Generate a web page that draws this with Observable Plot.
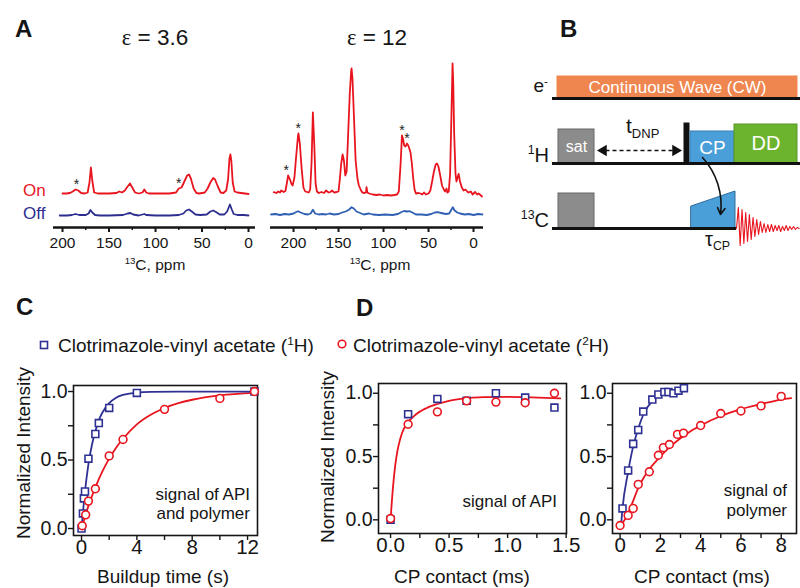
<!DOCTYPE html>
<html>
<head>
<meta charset="utf-8">
<script src="https://cdn.jsdelivr.net/npm/d3@7"></script>
<script src="https://cdn.jsdelivr.net/npm/@observablehq/plot@0.6"></script>
<style>
  html, body { margin: 0; padding: 0; background: #fff; }
  #fig { position: relative; width: 800px; height: 588px; overflow: hidden; font-family: "Liberation Sans", Arial, sans-serif; color: #151515; }
  #fig svg { position: absolute; left: 0; top: 0; }
  .lbl { position: absolute; white-space: nowrap; line-height: 1; }
  .sup { font-size: 0.62em; vertical-align: 0.62em; line-height: 0; }
  .sub { font-size: 0.62em; vertical-align: -0.35em; line-height: 0; }
</style>
</head>
<body>
<div id="fig"></div>
<script>
// ---------------- DATA ----------------
// Panel A: 13C spectra, [ppm, intensity (a.u.)]
const ppmTicks = [200, 150, 100, 50, 0];
const ppmMinor = [175, 125, 75, 25];

const spec36On = [[200,1],[196,1],[192,1.5],[189,3],[186,5],[183,4],[180,1.5],[176,1],[173,2],[171,12],[169.5,27],[168,14],[166,2],[162,1],[150,1],[142,1.5],[139,3],[136,2],[133,4],[130,8],[127.5,11],[125,7],[122,2],[118,1],[114,2],[112,5],[110,2],[107,1],[95,1],[85,1],[78,2],[75,6],[72,7],[69,13],[66,19],[64,20],[62,16],[59,6],[56,1.5],[53,1],[47,2],[44,6],[41,12],[38,16.5],[36,15],[33,8],[30,2],[27,1.5],[24,4],[22,15],[20.5,36],[19.5,40],[18.5,34],[17,12],[15,3],[12,2],[8,1.5],[4,1],[0,0.5]];
const spec36Off = [[203,0],[195,0],[190,0.5],[186,1.5],[182,0.5],[175,0.5],[172,2],[170,5.5],[168,3],[165,0.5],[160,0],[150,0],[135,0.5],[130,2],[127,2.5],[124,1],[118,0],[114,1],[112,1.5],[110,0.5],[100,0],[85,0],[75,0.5],[70,2],[67,5],[64,6],[61,4],[57,1],[52,0.5],[45,1],[41,4],[38,5],[35,3.5],[31,1],[26,1],[23,4],[20,11],[18,6],[16,1.5],[12,0.5],[5,0.5],[0,0]];
const stars36 = [[185,5],[75,6]];

const spec12On = [[222,1.3],[219,0.5],[217,2],[215,1],[213.7,3],[211,1.5],[209,2.5],[207.5,10],[206,18],[204,14],[202,9],[201,8],[199,16],[197,38],[195,58],[194.5,60],[193,50],[191,25],[189,6],[187,2],[185,1.5],[183,1],[181.5,4],[180,30],[178.5,81],[177,50],[175.5,10],[174,2],[172,0.5],[169,1.5],[166,0.5],[164,3],[161,1],[159,1.5],[157,3],[155,1],[152,1.5],[150,2],[148.5,15],[147,30],[145.5,39],[144,33],[142.5,18],[141,22],[139.5,55],[137.5,100],[136,122],[135.5,125],[134.5,115],[133,80],[131,33],[129,15],[127.4,8],[125,3],[123.5,1],[121,0.5],[119.5,1],[118.9,6.3],[118,1],[116,0],[112,-1],[108,-1.5],[104,-1],[100,-2],[96,-1.5],[92,-2],[88,-1.5],[85,-1],[83,2],[81,30],[79.5,58],[78.5,55],[77,48],[75.5,47],[74,50],[72.5,48],[71,44],[70,41],[68.5,30],[67,15],[65.5,4],[64,0],[61,0.5],[59,0],[57,-1],[55,1],[53,-1],[50,0],[48,3],[46,12],[44,22],[42,29],[40.5,30],[39,27],[37,18],[35,8],[33,4],[31.5,2],[30,5],[29,1],[27.5,2],[26,20],[24.5,80],[23.3,130],[22.5,110],[21.5,60],[20,20],[19,12],[18,15],[16.5,19.7],[15,12],[13,6],[11,3],[9,4],[7,2],[5.6,1],[3,2],[1,-1],[-1.8,1.5],[-4,-1],[-5.6,0],[-7,-1],[-9.5,-3]];
const spec12Off = [[225,0],[220,0.5],[215,-0.5],[210,0.5],[205,0],[200,1],[197,2.5],[195,3.3],[192,2],[188,0.5],[184,0],[181,1],[178.5,4.7],[176,1],[172,0],[168,0.5],[164,0],[160,1],[155,0],[150,0.5],[146,2],[142,3],[138,5],[135.5,7.3],[133,6],[130,3],[126,1.5],[122,0],[116,1],[112,0],[105,-0.5],[98,0],[90,-0.5],[84,0.5],[80,2.5],[77,3.5],[74,3],[71,3.3],[68,2],[64,0],[58,0],[52,-0.5],[47,0.5],[43,2],[40,2.3],[36,1.5],[31,0.5],[27,1],[24.5,5],[23,7.3],[21,4],[18,2],[15,1],[10,0],[5,0.5],[0,-0.5],[-5,0.5],[-10,0]];
const stars12 = [[208,18],[194.8,60],[79.5,58],[74,50]];

// Panel B: pulse sequence (time in arbitrary units, amplitude in arbitrary units)
const channels = ["e", "H", "C"];
const channelEnds = [248, 248, 184];
const blocks = [
  {name: "cw",  ch: "e", start: 5,   end: 245, amp: 22, label: "Continuous Wave (CW)"},
  {name: "sat", ch: "H", start: 6,   end: 42,  amp: 34, label: "sat"},
  {name: "bar", ch: "H", start: 132, end: 137, amp: 40, label: ""},
  {name: "cp",  ch: "H", start: 138, end: 182, amp: 32, label: "CP"},
  {name: "dd",  ch: "H", start: 182, end: 245, amp: 39, label: "DD"},
  {name: "satC",ch: "C", start: 6,   end: 42,  amp: 35, label: ""}
];
const rampT = [139, 183];
const rampAmp = [22, 37];
const dnpDelay = {ch: "H", start: 48, end: 126, amp: 13};
const cpTransfer = {fromT: 150, fromAmp: 6, toT: 168, toAmp: 14};
const fidStart = 184;
const fidAmp = [0,21,-17,19,-15,16,-13,14,-11,11,-8,9,-6,7,-4,5,-4,4,-3,4,-3,3,-2,3,-3,2,-2,3,-2,2,-1,2,-1,1,0];

// Panel C: DNP buildup, [time (s), normalized intensity]
const cH1 = [[0,0.0],[0.1,0.11],[0.17,0.22],[0.25,0.27],[0.5,0.51],[1,0.69],[1.25,0.77],[2,0.88],[4,0.99],[12.5,1.0]];
const cH2 = [[0.05,0.02],[0.3,0.10],[0.5,0.2],[1,0.29],[2,0.53],[3,0.65],[6,0.87],[10,0.95],[12.5,1.0]];
const cH1Fit = [[0,0],[0.25,0.27],[0.5,0.47],[0.75,0.61],[1,0.71],[1.25,0.79],[1.5,0.845],[2,0.915],[2.5,0.955],[3,0.975],[4,0.992],[5,0.998],[7,1],[10,1],[12.5,1]];
const cH2Fit = [[0,0],[0.5,0.165],[1,0.3],[1.5,0.415],[2,0.51],[2.5,0.59],[3,0.655],[4,0.76],[5,0.83],[6,0.88],[7,0.915],[8,0.94],[10,0.972],[12.5,0.99]];

// Panel D: CP buildup, [contact (ms), normalized intensity]
const dApiH1 = [[0,0.0],[0.15,0.835],[0.4,0.955],[0.65,0.94],[0.9,1.0],[1.15,0.966],[1.4,0.887]];
const dApiH2 = [[0,0.01],[0.15,0.755],[0.4,0.853],[0.65,0.94],[0.9,0.93],[1.15,0.925],[1.4,1.0]];
const dApiH2Fit = [[0,0],[0.02,0.25],[0.04,0.43],[0.06,0.55],[0.08,0.63],[0.1,0.69],[0.15,0.77],[0.2,0.82],[0.3,0.88],[0.4,0.915],[0.5,0.94],[0.6,0.955],[0.8,0.97],[1.0,0.972],[1.2,0.968],[1.45,0.96]];
const dPolH1 = [[0.12,0.09],[0.4,0.39],[0.65,0.6],[0.9,0.71],[1.15,0.855],[1.6,0.95],[1.9,0.99],[2.2,1.01],[2.4,1.01],[2.65,1.0],[2.9,1.02],[3.17,1.04]];
const dPolH1Fit = [[0.05,-0.04],[0.12,0.09],[0.4,0.38],[0.65,0.58],[0.9,0.72],[1.15,0.83],[1.6,0.94],[1.9,0.98],[2.2,1.0],[2.65,1.005],[3.17,1.03]];
const dPolH2 = [[0,-0.045],[0.4,0.035],[0.65,0.09],[0.9,0.28],[1.45,0.38],[1.9,0.51],[2.15,0.57],[2.45,0.595],[2.85,0.675],[3.15,0.685],[4,0.745],[5,0.84],[6,0.86],[7,0.9],[8,0.975]];
const dPolH2Fit = [[0,-0.05],[0.3,0.02],[0.6,0.13],[0.9,0.25],[1.2,0.34],[1.5,0.41],[2,0.5],[2.5,0.58],[3,0.645],[3.5,0.70],[4,0.745],[5,0.82],[6,0.875],[7,0.915],[8,0.95],[8.5,0.962]];

// ---------------- STYLE ----------------
const FONT = '"Liberation Sans", Arial, sans-serif';
const RED = "#e8151f", NAVY = "#2b2e8f", OFF12 = "#2f5fb3", SQ = "#2e3192";
const blockFill = {cw: "#ef864f", sat: "#8c8c8c", bar: "#111111", cp: "#4a9fd9", dd: "#6db42e", satC: "#8c8c8c"};
const blockStroke = {cw: "#ef864f", sat: "#666666", bar: "#111111", cp: "#3a7fb5", dd: "#58962a", satC: "#666666"};
const blockFont = {cw: 17, sat: 16, bar: 1, cp: 19, dd: 20, satC: 1};

const fig = document.getElementById("fig");
const W = 800, H = 588;
function frame(l, r, t, b) {
  return {width: W, height: H, marginLeft: l, marginRight: W - r, marginTop: t, marginBottom: H - b,
          style: {background: "transparent", fontFamily: FONT, color: "#151515", overflow: "visible"}};
}
function add(p) { fig.appendChild(p); }

// ---------- Panel A ----------
function spectrum(l, r, xdom, onBase, on, off, offColor, stars) {
  return Plot.plot({
    ...frame(l, r, 50, 227),
    x: {domain: xdom, label: null},
    y: {domain: [-onBase, 177 - onBase], axis: null},
    marks: [
      Plot.line(off, {x: d => d[0], y: d => d[1] - 21, stroke: offColor, strokeWidth: 1.8}),
      Plot.line(on, {x: d => d[0], y: d => d[1], stroke: RED, strokeWidth: 1.8}),
      Plot.text(stars, {x: d => d[0], y: d => d[1], text: () => "*", dy: -5, fontSize: 14, fill: "#222"}),
      Plot.axisX({ticks: ppmTicks, tickSize: 5, tickPadding: 4, fontSize: 15.5, strokeWidth: 2, tickFormat: d => d, label: null}),
      Plot.axisX({ticks: ppmMinor, tickSize: 3, strokeWidth: 1.5, tickFormat: () => "", label: null}),
      Plot.ruleY([-onBase], {strokeWidth: 2.6})
    ]
  });
}
add(spectrum(53, 255, [209.7, -7.5], 33, spec36On, spec36Off, NAVY, stars36));
add(spectrum(270, 483, [225.6, -11.1], 34, spec12On, spec12Off, OFF12, stars12));

// ---------- Panel B ----------
const base = ch => -65 * channels.indexOf(ch);
const fid = fidAmp.map((a, i) => ({t: fidStart + i * 1.84, a}));
add(Plot.plot({
  ...frame(552, 800, 60, 260),
  x: {domain: [0, 248], axis: null},
  y: {domain: [-162, 38], axis: null},
  color: {type: "identity"},
  marks: [
    Plot.rect(blocks, {x1: "start", x2: "end", y1: d => base(d.ch), y2: d => base(d.ch) + d.amp,
      fill: d => blockFill[d.name], stroke: d => blockStroke[d.name], strokeWidth: 1}),
    Plot.text(blocks.filter(d => d.label), {x: d => (d.start + d.end) / 2, y: d => base(d.ch) + d.amp / 2,
      text: "label", fill: "white", fontSize: d => blockFont[d.name]}),
    Plot.areaY(rampT.map((t, i) => ({t, amp: rampAmp[i]})), {x: "t", y1: () => base("C"), y2: d => base("C") + d.amp,
      fill: blockFill.cp, stroke: "#2f6c9c", strokeWidth: 1}),
    Plot.ruleY(channels.map((ch, i) => ({ch, end: channelEnds[i]})), {y: d => base(d.ch), x1: () => 0, x2: d => d.end, strokeWidth: 3, stroke: "#111"}),
    Plot.link([dnpDelay], {x1: d => d.start + 5, x2: d => d.end - 5, y1: d => base(d.ch) + d.amp, y2: d => base(d.ch) + d.amp,
      stroke: "#111", strokeWidth: 1.6, strokeDasharray: "4,3"}),
    Plot.dot([{t: dnpDelay.start + 3, rot: -90}, {t: dnpDelay.end - 3, rot: 90}], {x: "t", y: () => base(dnpDelay.ch) + dnpDelay.amp,
      symbol: "triangle", r: 4.2, fill: "#111", rotate: "rot"}),
    Plot.arrow([cpTransfer], {x1: "fromT", y1: d => base("H") + d.fromAmp, x2: "toT", y2: d => base("C") + d.toAmp,
      bend: 25, headLength: 7, stroke: "#111", strokeWidth: 1.6}),
    Plot.line(fid, {x: "t", y: d => base("C") + d.a, stroke: RED, strokeWidth: 1.1})
  ]
}));

// ---------- Panels C and D ----------
function fracFmt(d) { return d.toFixed(1); }
function kinetics(opt) {
  const marks = [
    Plot.frame({stroke: "#151515", strokeWidth: 1.6}),
    Plot.axisX({ticks: opt.xLabels, tickSize: 0, tickPadding: 4, fontSize: 20.5, tickFormat: opt.xFmt, label: null}),
    Plot.axisX({ticks: opt.xMinor, tickSize: 5, strokeWidth: 1.4, tickFormat: () => "", label: null}),
    Plot.axisY({ticks: [0, 0.5, 1], tickSize: 0, tickPadding: 6, fontSize: 19.5, tickFormat: fracFmt, label: null}),
    Plot.axisY({ticks: [0, 0.25, 0.5, 0.75, 1], tickSize: 5, strokeWidth: 1.4, tickFormat: () => "", label: null})
  ];
  for (const f of opt.fits) marks.push(Plot.line(f.data, {x: d => d[0], y: d => d[1], stroke: f.color, strokeWidth: 1.8, curve: "monotone-x"}));
  if (opt.sq) marks.push(Plot.dot(opt.sq, {x: d => d[0], y: d => d[1], symbol: "square", r: 3.9, stroke: SQ, strokeWidth: 1.6, fill: "white"}));
  if (opt.ci) marks.push(Plot.dot(opt.ci, {x: d => d[0], y: d => d[1], symbol: "circle", r: 3.9, stroke: RED, strokeWidth: 1.6, fill: "white"}));
  return Plot.plot({
    ...frame(opt.l, opt.r, opt.t, opt.b),
    x: {domain: opt.xdom, label: null},
    y: {domain: opt.ydom, label: null},
    marks
  });
}
add(kinetics({l: 73, r: 257, t: 385, b: 535, xdom: [-0.58, 12.72], ydom: [-0.051, 1.044],
  xLabels: [0, 4, 8, 12], xMinor: [0, 2, 4, 6, 8, 10, 12], xFmt: d => d,
  fits: [{data: cH2Fit, color: RED}, {data: cH1Fit, color: SQ}], sq: cH1, ci: cH2}));
add(kinetics({l: 378, r: 566, t: 383, b: 533, xdom: [-0.103, 1.503], ydom: [-0.108, 1.077],
  xLabels: [0, 0.5, 1, 1.5], xMinor: [0, 0.25, 0.5, 0.75, 1, 1.25, 1.5], xFmt: fracFmt,
  fits: [{data: dApiH2Fit, color: RED}], sq: dApiH1, ci: dApiH2}));
add(kinetics({l: 612, r: 796, t: 383, b: 533, xdom: [-0.377, 8.76], ydom: [-0.108, 1.077],
  xLabels: [0, 2, 4, 6, 8], xMinor: [0, 1, 2, 3, 4, 5, 6, 7, 8], xFmt: d => d,
  fits: [{data: dPolH2Fit, color: RED}, {data: dPolH1Fit, color: SQ}], sq: dPolH1, ci: dPolH2}));

// ---------- Text labels ----------
function label(html, x, baseline, o = {}) {
  const size = o.size || 16;
  const d = document.createElement("div");
  d.className = "lbl";
  d.innerHTML = html;
  d.style.fontSize = size + "px";
  d.style.left = x + "px";
  d.style.top = (baseline - 0.85 * size) + "px";
  if (o.weight) d.style.fontWeight = o.weight;
  if (o.color) d.style.color = o.color;
  const tx = o.anchor === "middle" ? "-50%" : o.anchor === "end" ? "-100%" : "0";
  d.style.transform = `translateX(${tx})`;
  fig.appendChild(d);
  return d;
}
function vlabel(html, cx, cy, size) {
  const d = document.createElement("div");
  d.className = "lbl";
  d.innerHTML = html;
  d.style.fontSize = size + "px";
  d.style.left = cx + "px";
  d.style.top = cy + "px";
  d.style.transform = "translate(-50%, -50%) rotate(-90deg)";
  fig.appendChild(d);
}
const eps = '<span style="font-family:\'Liberation Serif\', serif">ε</span>';
label("A", 15, 37, {size: 24, weight: 700});
label("B", 560, 37, {size: 24, weight: 700});
label("C", 16, 315, {size: 24, weight: 700});
label("D", 356, 316, {size: 24, weight: 700});
label(eps + " = 3.6", 155, 46, {size: 22.5, anchor: "middle"});
label(eps + " = 12", 377, 46, {size: 22.5, anchor: "middle"});
label("On", 23, 196, {size: 17, color: RED});
label("Off", 23, 219, {size: 17, color: NAVY});
label('<span class="sup">13</span>C, ppm', 155, 270, {size: 15.5, anchor: "middle"});
label('<span class="sup">13</span>C, ppm', 380, 270, {size: 15.5, anchor: "middle"});
label('e<span class="sup">-</span>', 548, 92, {size: 19, anchor: "end"});
label('<span class="sup">1</span>H', 549, 162, {size: 20, anchor: "end"});
label('<span class="sup">13</span>C', 549, 227, {size: 20, anchor: "end"});
label('t<span class="sub">DNP</span>', 626, 133, {size: 21});
label('τ<span class="sub">CP</span>', 705, 246, {size: 20});
label('Clotrimazole-vinyl acetate (<span class="sup">1</span>H)', 58, 352, {size: 19});
label('Clotrimazole-vinyl acetate (<span class="sup">2</span>H)', 353, 352, {size: 19});
vlabel("Normalized Intensity", 23, 453, 19);
vlabel("Normalized Intensity", 327, 457, 19);
label("Buildup time (s)", 163, 583, {size: 19, anchor: "middle"});
label("CP contact (ms)", 462, 583, {size: 19, anchor: "middle"});
label("CP contact (ms)", 702, 583, {size: 19, anchor: "middle"});
label("signal of API", 250, 500, {size: 17, anchor: "end"});
label("and polymer", 250, 519, {size: 17, anchor: "end"});
label("signal of API", 557, 507, {size: 17, anchor: "end"});
label("signal of", 787, 496, {size: 17, anchor: "end"});
label("polymer", 787, 516, {size: 17, anchor: "end"});

// legend symbols
function legendSym(kind, cx, cy, color) {
  const s = document.createElementNS("http://www.w3.org/2000/svg", "svg");
  s.setAttribute("width", 12); s.setAttribute("height", 12);
  s.style.left = (cx - 6) + "px"; s.style.top = (cy - 6) + "px";
  s.innerHTML = kind === "square"
    ? `<rect x="2.5" y="2.5" width="7" height="7" fill="white" stroke="${color}" stroke-width="1.6"/>`
    : `<circle cx="6" cy="6" r="3.8" fill="white" stroke="${color}" stroke-width="1.6"/>`;
  fig.appendChild(s);
}
legendSym("square", 44, 345, SQ);
legendSym("circle", 342, 344, RED);
</script>
</body>
</html>
